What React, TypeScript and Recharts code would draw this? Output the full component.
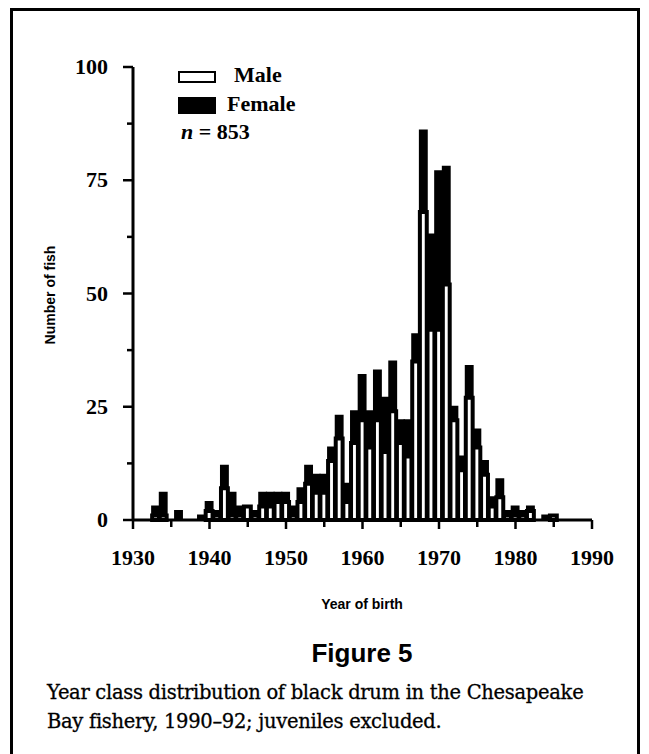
import { Bar, BarChart, XAxis, YAxis } from "recharts";

const years = [
  1933, 1934, 1935, 1936, 1937, 1938, 1939, 1940, 1941, 1942, 1943, 1944, 1945, 1946, 1947, 1948, 1949, 1950,
  1951, 1952, 1953, 1954, 1955, 1956, 1957, 1958, 1959, 1960, 1961, 1962, 1963, 1964, 1965, 1966, 1967, 1968,
  1969, 1970, 1971, 1972, 1973, 1974, 1975, 1976, 1977, 1978, 1979, 1980, 1981, 1982, 1983, 1984, 1985,
];
const male = [
  1, 1, 0, 0, 0, 0, 0, 2, 1, 7, 1, 1, 3, 1, 3, 3, 4, 4,
  1, 4, 8, 6, 6, 13, 18, 4, 17, 22, 16, 22, 15, 24, 17, 14, 35, 68,
  42, 42, 52, 22, 11, 27, 16, 10, 3, 5, 1, 1, 1, 2, 0, 0, 1,
];
const female = [
  2, 5, 0, 2, 0, 0, 1, 2, 1, 5, 5, 2, 0, 1, 3, 3, 2, 2,
  2, 3, 4, 4, 4, 3, 5, 4, 7, 10, 8, 11, 12, 11, 5, 8, 6, 18,
  21, 35, 26, 3, 3, 7, 4, 3, 2, 4, 1, 2, 1, 1, 0, 1, 0,
];
const xTicks = [1930, 1935, 1940, 1945, 1950, 1955, 1960, 1965, 1970, 1975, 1980, 1985, 1990];
const xLabels = [1930, 1940, 1950, 1960, 1970, 1980, 1990];
const yTicks = [0, 12.5, 25, 37.5, 50, 62.5, 75, 87.5, 100];
const yLabels = [0, 25, 50, 75, 100];

const data = years.map((y, i) => ({ year: y, male: male[i], female: female[i] }));

const serif = "'Liberation Serif', 'Times New Roman', serif";
const sans = "'Liberation Sans', Arial, sans-serif";

function XTick({ x, y, payload }: any) {
  const major = xLabels.includes(payload.value);
  return (
    <g>
      <line x1={x} x2={x} y1={y} y2={y + (major ? 9 : 7)} stroke="#000" strokeWidth={2.5} />
      {major && (
        <text x={x} y={y + 45} textAnchor="middle" fontFamily={serif} fontWeight="bold" fontSize={22} fill="#000">
          {payload.value}
        </text>
      )}
    </g>
  );
}

function YTick({ x, y, payload }: any) {
  const major = yLabels.includes(payload.value);
  return (
    <g>
      <line x1={x - (major ? 10 : 6)} x2={x} y1={y} y2={y} stroke="#000" strokeWidth={2.5} />
      {major && (
        <text x={x - 25} y={y + 7} textAnchor="end" fontFamily={serif} fontWeight="bold" fontSize={22} fill="#000">
          {payload.value}
        </text>
      )}
    </g>
  );
}

export default function App() {
  return (
    <div style={{ position: "absolute", left: 0, top: 0, width: 649, height: 754, overflow: "hidden", background: "#fff" }}>
      <div
        style={{
          position: "absolute",
          left: 10,
          top: 8,
          width: 630,
          height: 800,
          border: "3px solid #000",
          boxSizing: "border-box",
        }}
      />
      <div style={{ position: "absolute", left: 0, top: 0 }}>
        <BarChart
          width={649}
          height={600}
          data={data}
          margin={{ top: 67, right: 57, bottom: 0, left: 0 }}
          barCategoryGap={0}
          barGap={0}
        >
          <XAxis
            dataKey="year"
            type="number"
            domain={[1930, 1990]}
            ticks={xTicks}
            interval={0}
            height={80}
            tickSize={0}
            tickMargin={0}
            tick={<XTick />}
            tickLine={false}
            axisLine={{ stroke: "#000", strokeWidth: 3 }}
          />
          <YAxis
            type="number"
            domain={[0, 100]}
            ticks={yTicks}
            interval={0}
            width={133}
            tickSize={0}
            tickMargin={0}
            tick={<YTick />}
            tickLine={false}
            axisLine={{ stroke: "#000", strokeWidth: 3 }}
          />
          <Bar dataKey="male" stackId="a" barSize={7.65} fill="#fff" stroke="#000" strokeWidth={4} isAnimationActive={false} />
          <Bar dataKey="female" stackId="a" barSize={7.65} fill="#000" stroke="#000" strokeWidth={2} isAnimationActive={false} />
        </BarChart>
      </div>

      {/* legend */}
      <div style={{ position: "absolute", left: 178, top: 71, width: 38, height: 12, border: "2.5px solid #000", boxSizing: "border-box", background: "#fff" }} />
      <div style={{ position: "absolute", left: 234, top: 63, fontFamily: serif, fontWeight: "bold", fontSize: 22, lineHeight: "24px" }}>Male</div>
      <div style={{ position: "absolute", left: 178, top: 97, width: 38, height: 17, background: "#000" }} />
      <div style={{ position: "absolute", left: 227, top: 92, fontFamily: serif, fontWeight: "bold", fontSize: 22, lineHeight: "24px" }}>Female</div>
      <div style={{ position: "absolute", left: 181, top: 120, fontFamily: serif, fontWeight: "bold", fontSize: 22, lineHeight: "24px" }}>
        <i>n</i> = 853
      </div>

      {/* axis titles */}
      <div
        style={{
          position: "absolute",
          left: 50,
          top: 295,
          transform: "translate(-50%, -50%) rotate(-90deg)",
          fontFamily: sans,
          fontWeight: "bold",
          fontSize: 14,
          whiteSpace: "nowrap",
        }}
      >
        Number of fish
      </div>
      <div style={{ position: "absolute", left: 362, top: 596, transform: "translateX(-50%)", fontFamily: sans, fontWeight: "bold", fontSize: 14, whiteSpace: "nowrap" }}>
        Year of birth
      </div>

      {/* caption */}
      <div style={{ position: "absolute", left: 362, top: 638, transform: "translateX(-50%)", fontFamily: sans, fontWeight: "bold", fontSize: 26, whiteSpace: "nowrap" }}>
        Figure 5
      </div>
      <div
        style={{
          position: "absolute",
          left: 47,
          top: 678,
          fontFamily: "'DejaVu Serif', serif",
          fontSize: 19.5,
          lineHeight: "29px",
          letterSpacing: -0.3,
          WebkitTextStroke: "0.3px #000",
          whiteSpace: "nowrap",
        }}
      >
        Year class distribution of black drum in the Chesapeake
        <br />
        Bay fishery, 1990–92; juveniles excluded.
      </div>
    </div>
  );
}
